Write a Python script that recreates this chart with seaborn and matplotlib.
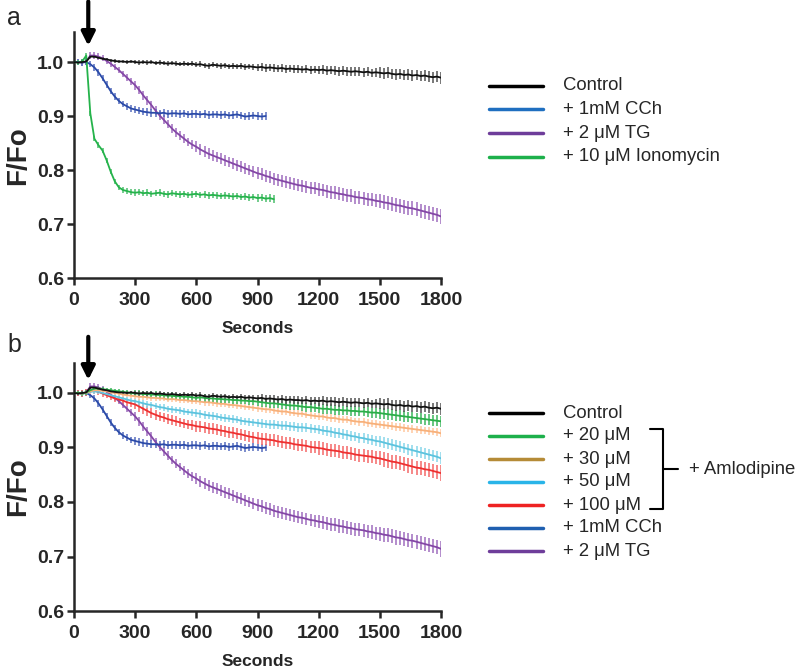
import numpy as np
import pandas as pd
import matplotlib
matplotlib.use("Agg")
import matplotlib.pyplot as plt
from matplotlib.lines import Line2D
import seaborn as sns

# ---------------- data (F/Fo, sampled every 20 s) ----------------
STEP = 20

control = [1.000, 0.999, 1.000, 1.001, 1.010, 1.010, 1.008, 1.006, 1.005, 1.003,
           1.002, 1.001, 1.001, 1.000, 1.001, 1.000, 0.999, 1.000, 0.999, 1.000,
           0.998, 0.999, 0.998, 0.997, 0.998, 0.997, 0.996, 0.997, 0.996, 0.997,
           0.995, 0.996, 0.994, 0.993, 0.995, 0.994, 0.993, 0.994, 0.992, 0.993,
           0.992, 0.993, 0.991, 0.992, 0.991, 0.990, 0.991, 0.989, 0.990, 0.989,
           0.988, 0.989, 0.987, 0.988, 0.987, 0.987, 0.986, 0.987, 0.985, 0.986,
           0.985, 0.986, 0.984, 0.985, 0.984, 0.983, 0.984, 0.983, 0.982, 0.983,
           0.982, 0.981, 0.982, 0.980, 0.981, 0.980, 0.979, 0.980, 0.978, 0.977,
           0.978, 0.976, 0.977, 0.975, 0.976, 0.974, 0.975, 0.973, 0.972, 0.973,
           0.971]

cch = [1.000, 1.000, 0.999, 1.000, 0.996, 0.990, 0.981, 0.970, 0.958, 0.946,
       0.936, 0.928, 0.922, 0.918, 0.914, 0.912, 0.910, 0.908, 0.907, 0.906,
       0.906, 0.905, 0.906, 0.904, 0.905, 0.905, 0.904, 0.905, 0.903, 0.904,
       0.904, 0.903, 0.904, 0.902, 0.903, 0.903, 0.902, 0.903, 0.901, 0.902,
       0.903, 0.901, 0.899, 0.900, 0.901, 0.900, 0.899, 0.900]

tg = [1.000, 1.000, 0.999, 1.001, 1.012, 1.012, 1.010, 1.007, 1.002, 0.997,
      0.991, 0.985, 0.978, 0.971, 0.964, 0.957, 0.948, 0.938, 0.929, 0.920,
      0.910, 0.901, 0.893, 0.885, 0.877, 0.870, 0.864, 0.858, 0.852, 0.847,
      0.843, 0.838, 0.834, 0.830, 0.827, 0.824, 0.821, 0.818, 0.815, 0.812,
      0.809, 0.806, 0.803, 0.800, 0.797, 0.794, 0.792, 0.789, 0.787, 0.784,
      0.782, 0.780, 0.778, 0.776, 0.774, 0.772, 0.771, 0.769, 0.767, 0.766,
      0.764, 0.763, 0.761, 0.759, 0.758, 0.756, 0.755, 0.753, 0.752, 0.750,
      0.749, 0.748, 0.746, 0.745, 0.743, 0.742, 0.740, 0.739, 0.737, 0.735,
      0.734, 0.732, 0.730, 0.729, 0.727, 0.725, 0.723, 0.721, 0.719, 0.717,
      0.714]

iono = [1.000, 0.999, 1.001, 1.012, 0.905, 0.858, 0.846, 0.836, 0.818, 0.797,
        0.779, 0.768, 0.763, 0.761, 0.759, 0.758, 0.759, 0.757, 0.758, 0.756,
        0.757, 0.758, 0.756, 0.755, 0.757, 0.756, 0.755, 0.756, 0.754, 0.755,
        0.756, 0.754, 0.755, 0.753, 0.754, 0.753, 0.752, 0.753, 0.752, 0.751,
        0.752, 0.750, 0.751, 0.749, 0.750, 0.748, 0.749, 0.747, 0.748, 0.746]

aml20 = [1.000, 1.000, 0.999, 1.001, 1.005, 1.008, 1.008, 1.007, 1.006, 1.005,
         1.004, 1.003, 1.002, 1.001, 1.000, 0.999, 0.999, 0.998, 0.998, 0.997,
         0.997, 0.996, 0.996, 0.995, 0.995, 0.994, 0.994, 0.993, 0.993, 0.992,
         0.991, 0.992, 0.991, 0.990, 0.990, 0.989, 0.989, 0.988, 0.988, 0.987,
         0.987, 0.986, 0.986, 0.985, 0.985, 0.984, 0.983, 0.982, 0.981, 0.981,
         0.980, 0.979, 0.978, 0.977, 0.977, 0.976, 0.975, 0.974, 0.974, 0.973,
         0.972, 0.971, 0.971, 0.970, 0.969, 0.969, 0.968, 0.968, 0.967, 0.967,
         0.966, 0.966, 0.965, 0.964, 0.964, 0.963, 0.962, 0.961, 0.960, 0.959,
         0.958, 0.957, 0.956, 0.955, 0.954, 0.953, 0.952, 0.951, 0.950, 0.949,
         0.948]

aml30 = [1.000, 1.000, 0.999, 1.000, 1.003, 1.005, 1.005, 1.004, 1.003, 1.001,
         1.000, 0.999, 0.997, 0.996, 0.995, 0.994, 0.993, 0.993, 0.992, 0.991,
         0.991, 0.990, 0.990, 0.988, 0.989, 0.988, 0.987, 0.987, 0.986, 0.985,
         0.985, 0.984, 0.983, 0.983, 0.982, 0.981, 0.980, 0.980, 0.978, 0.978,
         0.977, 0.976, 0.975, 0.974, 0.973, 0.972, 0.971, 0.970, 0.970, 0.968,
         0.967, 0.966, 0.966, 0.964, 0.963, 0.962, 0.962, 0.960, 0.959, 0.958,
         0.957, 0.957, 0.955, 0.954, 0.954, 0.952, 0.951, 0.951, 0.949, 0.948,
         0.947, 0.947, 0.945, 0.944, 0.943, 0.942, 0.941, 0.940, 0.939, 0.938,
         0.937, 0.936, 0.935, 0.934, 0.933, 0.932, 0.931, 0.930, 0.929, 0.928,
         0.926]

aml50 = [1.000, 1.000, 0.999, 1.000, 1.002, 1.003, 1.002, 1.000, 0.998, 0.996,
         0.994, 0.992, 0.990, 0.988, 0.986, 0.985, 0.983, 0.981, 0.979, 0.978,
         0.976, 0.974, 0.973, 0.971, 0.970, 0.969, 0.968, 0.966, 0.965, 0.964,
         0.963, 0.962, 0.960, 0.959, 0.958, 0.957, 0.955, 0.954, 0.953, 0.952,
         0.951, 0.949, 0.948, 0.947, 0.946, 0.945, 0.944, 0.943, 0.942, 0.942,
         0.941, 0.940, 0.940, 0.939, 0.938, 0.937, 0.937, 0.936, 0.935, 0.934,
         0.933, 0.931, 0.930, 0.929, 0.927, 0.926, 0.924, 0.923, 0.921, 0.920,
         0.918, 0.917, 0.915, 0.914, 0.912, 0.911, 0.909, 0.907, 0.905, 0.903,
         0.901, 0.899, 0.897, 0.895, 0.893, 0.891, 0.889, 0.887, 0.885, 0.883,
         0.880]

aml100 = [1.000, 1.000, 0.999, 1.001, 1.003, 1.004, 1.002, 0.999, 0.996, 0.993,
          0.990, 0.988, 0.986, 0.983, 0.981, 0.979, 0.975, 0.971, 0.967, 0.963,
          0.960, 0.957, 0.955, 0.952, 0.950, 0.948, 0.946, 0.944, 0.942, 0.941,
          0.939, 0.938, 0.937, 0.935, 0.934, 0.933, 0.931, 0.930, 0.928, 0.927,
          0.925, 0.924, 0.922, 0.920, 0.919, 0.917, 0.916, 0.915, 0.914, 0.913,
          0.911, 0.910, 0.909, 0.908, 0.906, 0.905, 0.904, 0.903, 0.901, 0.900,
          0.899, 0.898, 0.896, 0.895, 0.894, 0.893, 0.891, 0.890, 0.889, 0.887,
          0.886, 0.885, 0.884, 0.883, 0.881, 0.880, 0.878, 0.876, 0.874, 0.873,
          0.871, 0.869, 0.867, 0.865, 0.863, 0.862, 0.860, 0.859, 0.857, 0.855,
          0.853]

# SEM per 300-s block
sem_blocks = {
    "control": [0.003, 0.004, 0.005, 0.007, 0.008, 0.010, 0.011],
    "cch":     [0.006, 0.007, 0.007, 0.007],
    "tg":      [0.006, 0.008, 0.010, 0.011, 0.012, 0.013, 0.014],
    "iono":    [0.005, 0.006, 0.006, 0.007],
    "aml20":   [0.004, 0.006, 0.007, 0.008, 0.009, 0.010, 0.010],
    "aml30":   [0.004, 0.005, 0.006, 0.006, 0.007, 0.007, 0.007],
    "aml50":   [0.004, 0.006, 0.007, 0.008, 0.009, 0.010, 0.011],
    "aml100":  [0.006, 0.009, 0.010, 0.011, 0.012, 0.013, 0.014],
}

series = {"control": control, "cch": cch, "tg": tg, "iono": iono,
          "aml20": aml20, "aml30": aml30, "aml50": aml50, "aml100": aml100}

line_colors = {"control": "#111111", "cch": "#2a4aa8", "tg": "#8447a6",
               "iono": "#25b34b", "aml20": "#2aae48", "aml30": "#f7b07a",
               "aml50": "#5cc3de", "aml100": "#ee3030"}
bar_colors = {"control": "#555555", "cch": "#5a70c0", "tg": "#a070c0",
              "iono": "#50c070", "aml20": "#40b860", "aml30": "#ffc9a0",
              "aml50": "#8ad6ea", "aml100": "#f46a6a"}

legend_a = [("Control", "#000000"), ("+ 1mM CCh", "#1f6fc0"),
            ("+ 2 \u03bcM TG", "#6e3d9a"), ("+ 10 \u03bcM Ionomycin", "#1db04b")]
legend_b = [("Control", "#000000"), ("+ 20 \u03bcM", "#1db04b"),
            ("+ 30 \u03bcM", "#b58b37"), ("+ 50 \u03bcM", "#29b4e8"),
            ("+ 100 \u03bcM", "#ee2222"), ("+ 1mM CCh", "#1f5fb0"),
            ("+ 2 \u03bcM TG", "#6e3d9a")]

panel_a = ["control", "cch", "tg", "iono"]
panel_b = ["control", "aml20", "aml30", "aml50", "aml100", "cch", "tg"]

X_TICKS = [0, 300, 600, 900, 1200, 1500, 1800]
Y_TICKS = [0.6, 0.7, 0.8, 0.9, 1.0]
ARROW_T = 70

# ---------------- figure ----------------
sns.set_style("ticks")
plt.rcParams["font.family"] = ["Liberation Sans", "DejaVu Sans"]

fig = plt.figure(figsize=(8.0, 6.68), dpi=100)
ax_a = fig.add_axes([0.0925, 0.5838, 0.4588, 0.3678])
ax_b = fig.add_axes([0.0925, 0.0853, 0.4588, 0.3713])


def draw_panel(ax, keys):
    order = [k for k in ["tg", "cch", "iono", "aml100", "aml50", "aml30", "aml20", "control"] if k in keys]
    for k in order:
        v = np.array(series[k])
        t = np.arange(len(v)) * STEP
        blocks = np.array(sem_blocks[k])
        s = blocks[np.minimum(t // 300, len(blocks) - 1)]
        ax.vlines(t, v - s, v + s, color=bar_colors[k], lw=1.4, alpha=0.8, zorder=2)
        df = pd.DataFrame({"t": t, "v": v})
        sns.lineplot(data=df, x="t", y="v", ax=ax, color=line_colors[k], lw=1.3,
                     zorder=3, legend=False)
    ax.set_xlim(0, 1800)
    ax.set_ylim(0.6, 1.055)
    ax.set_xticks(X_TICKS)
    ax.set_yticks(Y_TICKS)
    ax.set_yticklabels([f"{y:.1f}" for y in Y_TICKS])
    for lab in ax.get_xticklabels() + ax.get_yticklabels():
        lab.set_fontweight("bold")
        lab.set_fontsize(14)
    ax.tick_params(axis="both", length=5, width=1.8, direction="out", pad=2)
    ax.tick_params(axis="x", pad=5)
    sns.despine(ax=ax)
    for sp in ["left", "bottom"]:
        ax.spines[sp].set_linewidth(1.8)
    ax.set_xlabel("Seconds", fontsize=12.5, fontweight="bold", labelpad=9)
    ax.set_ylabel("F/Fo", fontsize=20, fontweight="bold", labelpad=4)


draw_panel(ax_a, panel_a)
draw_panel(ax_b, panel_b)

# arrows
ax_a.annotate("", xy=(ARROW_T, 1.030), xytext=(ARROW_T, 1.112),
              arrowprops=dict(arrowstyle="-|>", lw=3, color="black", mutation_scale=20,
                              shrinkA=0, shrinkB=0),
              annotation_clip=False)
ax_b.annotate("", xy=(ARROW_T, 1.024), xytext=(ARROW_T, 1.103),
              arrowprops=dict(arrowstyle="-|>", lw=3, color="black", mutation_scale=20,
                              shrinkA=0, shrinkB=0),
              annotation_clip=False)

# panel labels
W, H = 800.0, 668.0
fig.text(14 / W, 1 - 18 / H, "a", fontsize=18, ha="center", va="center")
fig.text(14 / W, 1 - 345 / H, "b", fontsize=18, ha="center", va="center")


def draw_legend(entries, ys):
    for (lab, col), y in zip(entries, ys):
        fig.add_artist(Line2D([489 / W, 543 / W], [1 - y / H, 1 - y / H], color=col, lw=2.5))
        fig.text(563 / W, 1 - y / H, lab, fontsize=13.3, ha="left", va="center")


draw_legend(legend_a, [86, 109, 133, 157])
draw_legend(legend_b, [413, 436, 459, 482, 505, 528, 551])

# bracket for amlodipine
bx0, bx1, bx2 = 650 / W, 663 / W, 678 / W
by0, by1, bym = 1 - 429 / H, 1 - 509 / H, 1 - 469 / H
fig.add_artist(Line2D([bx0, bx1, bx1, bx0], [by0, by0, by1, by1], color="black", lw=1.5))
fig.add_artist(Line2D([bx1, bx2], [bym, bym], color="black", lw=1.5))
fig.text(689 / W, bym, "+ Amlodipine", fontsize=13.3, ha="left", va="center")

fig.savefig("out.png", dpi=100)
